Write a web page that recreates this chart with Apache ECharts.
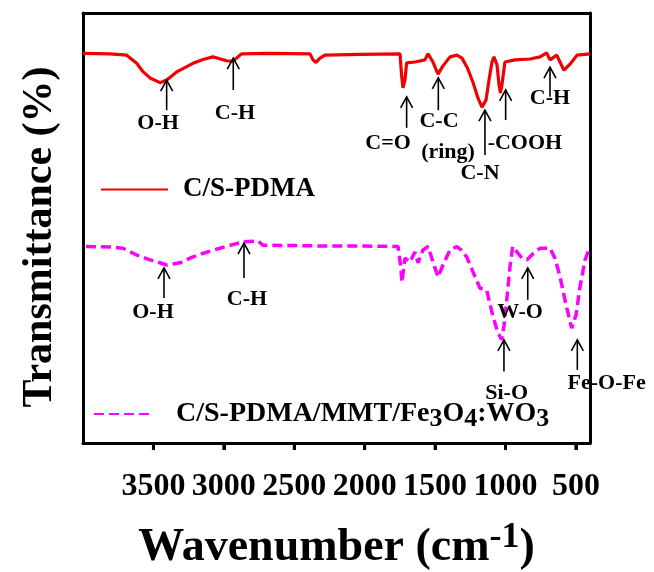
<!DOCTYPE html>
<html><head><meta charset="utf-8">
<script src="https://cdn.jsdelivr.net/npm/echarts@6/dist/echarts.min.js"></script>
<style>html,body{margin:0;padding:0;background:#fff}#c{width:654px;height:572px}</style>
</head><body><div id="c"></div>
<script>
// ---- data ----
const xTicks = [3500, 3000, 2500, 2000, 1500, 1000, 500];
const redName = 'C/S-PDMA';
const magName = 'C/S-PDMA/MMT/Fe3O4:WO3';
const redWn = [4000,3808,3690,3619,3572,3524,3453,3406,3335,3219,3148,3077,2980,2935,2899,2873,2672,2388,2367,2346,2317,2282,2033,1749,1738,1728,1714,1702,1643,1572,1550,1515,1479,1444,1394,1346,1309,1273,1231,1195,1167,1138,1117,1096,1082,1060,1046,1036,1025,1004,933,826,755,708,684,636,613,585,542,492,400];
const redT  = [90.6,90.5,90.2,88.3,86.3,84.9,83.8,84.4,86.3,88.3,89.2,89.8,88.9,88.8,89.8,90.5,90.6,90.5,89.1,88.5,89.5,90.2,90.4,90.5,85.6,82.6,84.4,88.4,88.6,89.1,90.5,88.6,85.8,87.7,89.8,90.2,89.5,87.4,83.9,80.2,78.1,79.8,84.4,88.6,89.8,87.9,83.3,81.4,83.3,88.6,89.1,89.3,89.8,90.7,89.1,90.2,88.6,86.7,88.1,90.2,90.5];
const magWn = [3979,3808,3716,3617,3524,3404,3311,3219,3120,3027,2864,2757,2722,2459,2246,1998,1763,1745,1735,1714,1679,1643,1621,1586,1550,1515,1479,1444,1394,1346,1316,1276,1231,1181,1134,1089,1053,1027,1010,991,968,949,918,883,847,805,755,684,649,613,570,530,499,471,435,400];
const magT  = [45.7,45.6,45.3,43.7,42.6,41.4,41.9,43.3,44.4,45.3,46.8,47.0,46.0,45.9,45.8,45.8,45.7,41.4,37.4,43.0,42.1,44.4,41.9,44.9,45.7,42.1,38.6,41.4,44.9,45.7,44.9,43.3,39.8,36.0,35.6,29.4,25.6,24.0,27.4,33.3,41.0,45.7,44.4,43.0,42.6,44.0,45.3,45.3,43.0,38.7,32.1,26.7,29.8,36.3,42.6,45.7];
// annotations: arrow position, arrow tip, arrow tail, label text, label position
const annWn     = [3406, 2933, 1702, 1477, 1408, 1146, 999, 684, 3425, 2857, 842, 1011, 490];
const annTip    = [84.4, 89.5, 80.5, 84.9, 67.7, 77.4, 82.1, 87.4, 40.7, 46.5, 40.7, 24.0, 24.0];
const annTail   = [77.4, 82.1, 73.3, 77.4, 67.7, 67.0, 75.1, 80.5, 33.7, 38.4, 33.3, 16.6, 17.0];
const annText   = ['O-H', 'C-H', 'C=O', 'C-C', '(ring)', 'C-N', '-COOH', 'C-H', 'O-H', 'C-H', 'W-O', 'Si-O', 'Fe-O-Fe'];
const annLabWn  = [3467, 2921, 1834, 1472, 1408, 1181, 862, 684, 3503, 2836, 897, 992, 282];
const annLabT   = [74.4, 76.7, 69.8, 74.7, 67.7, 62.8, 69.8, 80.2, 30.5, 33.3, 30.5, 11.6, 13.9];

const FONT = '"Liberation Serif", "Times New Roman", serif';
const chart = echarts.init(document.getElementById('c'), null, {renderer: 'canvas'});
const frameLine = {show: true, onZero: false, lineStyle: {color: '#000', width: 3}};

chart.setOption({
  animation: false,
  backgroundColor: '#fff',
  grid: {left: 83, right: 64, top: 13, bottom: 129, containLabel: false, outerBoundsMode: 'none'},
  xAxis: [{
    type: 'value', position: 'bottom', min: 400, max: 4000, inverse: true, splitNumber: 7,
    axisLine: frameLine,
    axisTick: {show: true, inside: false, length: 7, lineStyle: {color: '#000', width: 3}},
    axisLabel: {color: '#000', fontFamily: FONT, fontWeight: 'bold', fontSize: 32, margin: 28,
      showMinLabel: false, showMaxLabel: false,
      formatter: function (v) { return xTicks.indexOf(v) >= 0 ? String(v) : ''; }},
    splitLine: {show: false},
    name: '{m|Wavenumber (cm}{s|-1}{m|)}',
    nameLocation: 'middle', nameGap: 77,
    nameTextStyle: {color: '#000', fontFamily: FONT, fontWeight: 'bold',
      rich: {m: {fontSize: 46, fontFamily: FONT, fontWeight: 'bold', color: '#000', lineHeight: 56, verticalAlign: 'middle'},
             s: {fontSize: 36, fontFamily: FONT, fontWeight: 'bold', color: '#000', lineHeight: 24, verticalAlign: 'top'}}}
  }, {
    type: 'value', position: 'top', min: 400, max: 4000, inverse: true,
    axisLine: frameLine, axisTick: {show: false}, axisLabel: {show: false}, splitLine: {show: false}
  }],
  yAxis: [{
    type: 'value', position: 'left', min: 0, max: 100,
    axisLine: frameLine,
    axisTick: {show: false}, axisLabel: {show: false}, splitLine: {show: false},
    name: 'Transmittance (%)', nameLocation: 'middle', nameGap: 22,
    nameTextStyle: {color: '#000', fontFamily: FONT, fontWeight: 'bold', fontSize: 42, padding: [0, 18, 0, 0]}
  }, {
    type: 'value', position: 'right', min: 0, max: 100,
    axisLine: frameLine, axisTick: {show: false}, axisLabel: {show: false}, splitLine: {show: false}
  }],
  legend: [
    {data: [redName], left: 100, top: 176, padding: 0, itemWidth: 67, itemHeight: 16,
     itemStyle: {opacity: 0},
     textStyle: {color: '#000', fontFamily: FONT, fontWeight: 'bold', fontSize: 27, padding: [0, 0, 0, 10]}},
    {data: [magName], left: 93, top: 400, padding: 0, itemWidth: 60, itemHeight: 16,
     itemStyle: {opacity: 0},
     formatter: function () { return '{m|C/S-PDMA/MMT/Fe}{s|3}{m|O}{s|4}{m|:WO}{s|3}'; },
     textStyle: {color: '#000', fontFamily: FONT, fontWeight: 'bold', fontSize: 28, padding: [0, 0, 0, 17],
       rich: {m: {fontSize: 28, fontFamily: FONT, fontWeight: 'bold', color: '#000', lineHeight: 36, verticalAlign: 'middle'},
              s: {fontSize: 26, fontFamily: FONT, fontWeight: 'bold', color: '#000', lineHeight: 24, verticalAlign: 'bottom'}}}}
  ],
  series: [
    {name: redName, type: 'line', showSymbol: false, symbol: 'none', smooth: false,
     lineStyle: {color: '#f00000', width: 3.2}, itemStyle: {color: '#f00000'},
     data: redWn.map((w, i) => [w, redT[i]])},
    {name: magName, type: 'line', showSymbol: false, symbol: 'none', smooth: false,
     lineStyle: {color: '#ff00ff', width: 3.5, type: [10, 5]}, itemStyle: {color: '#ff00ff'},
     data: magWn.map((w, i) => [w, magT[i]])},
    {type: 'custom', clip: false, silent: true, z: 5,
     data: annWn.map((w, i) => [w, annTip[i]]),
     encode: {x: 0, y: 1},
     renderItem: function (params, api) {
       const i = params.dataIndex;
       const tip = api.coord([annWn[i], annTip[i]]);
       const tail = api.coord([annWn[i], annTail[i]]);
       const lab = api.coord([annLabWn[i], annLabT[i]]);
       const children = [];
       if (annTip[i] !== annTail[i]) {
         children.push({type: 'line', shape: {x1: tip[0], y1: tail[1], x2: tip[0], y2: tip[1]}, style: {stroke: '#000', lineWidth: 1.6}});
         children.push({type: 'polyline', shape: {points: [[tip[0] - 6, tip[1] + 11], [tip[0], tip[1]], [tip[0] + 6, tip[1] + 11]]}, style: {stroke: '#000', fill: null, lineWidth: 1.6}});
       }
       children.push({type: 'text', x: lab[0], y: lab[1], style: {text: annText[i], fill: '#000', fontFamily: FONT, fontWeight: 'bold', fontSize: 22, align: 'center', verticalAlign: 'middle'}});
       return {type: 'group', children: children};
     }},
    // outward tick marks at the labelled wavenumbers, placed through the x scale
    {type: 'custom', clip: false, silent: true, z: 6,
     data: xTicks.map(v => [v, 0]),
     encode: {x: 0, y: 1},
     renderItem: function (params, api) {
       const p = api.coord([api.value(0), 0]);
       return {type: 'line', shape: {x1: p[0], y1: p[1], x2: p[0], y2: p[1] + 7}, style: {stroke: '#000', lineWidth: 3}};
     }}
  ]
});
</script></body></html>
